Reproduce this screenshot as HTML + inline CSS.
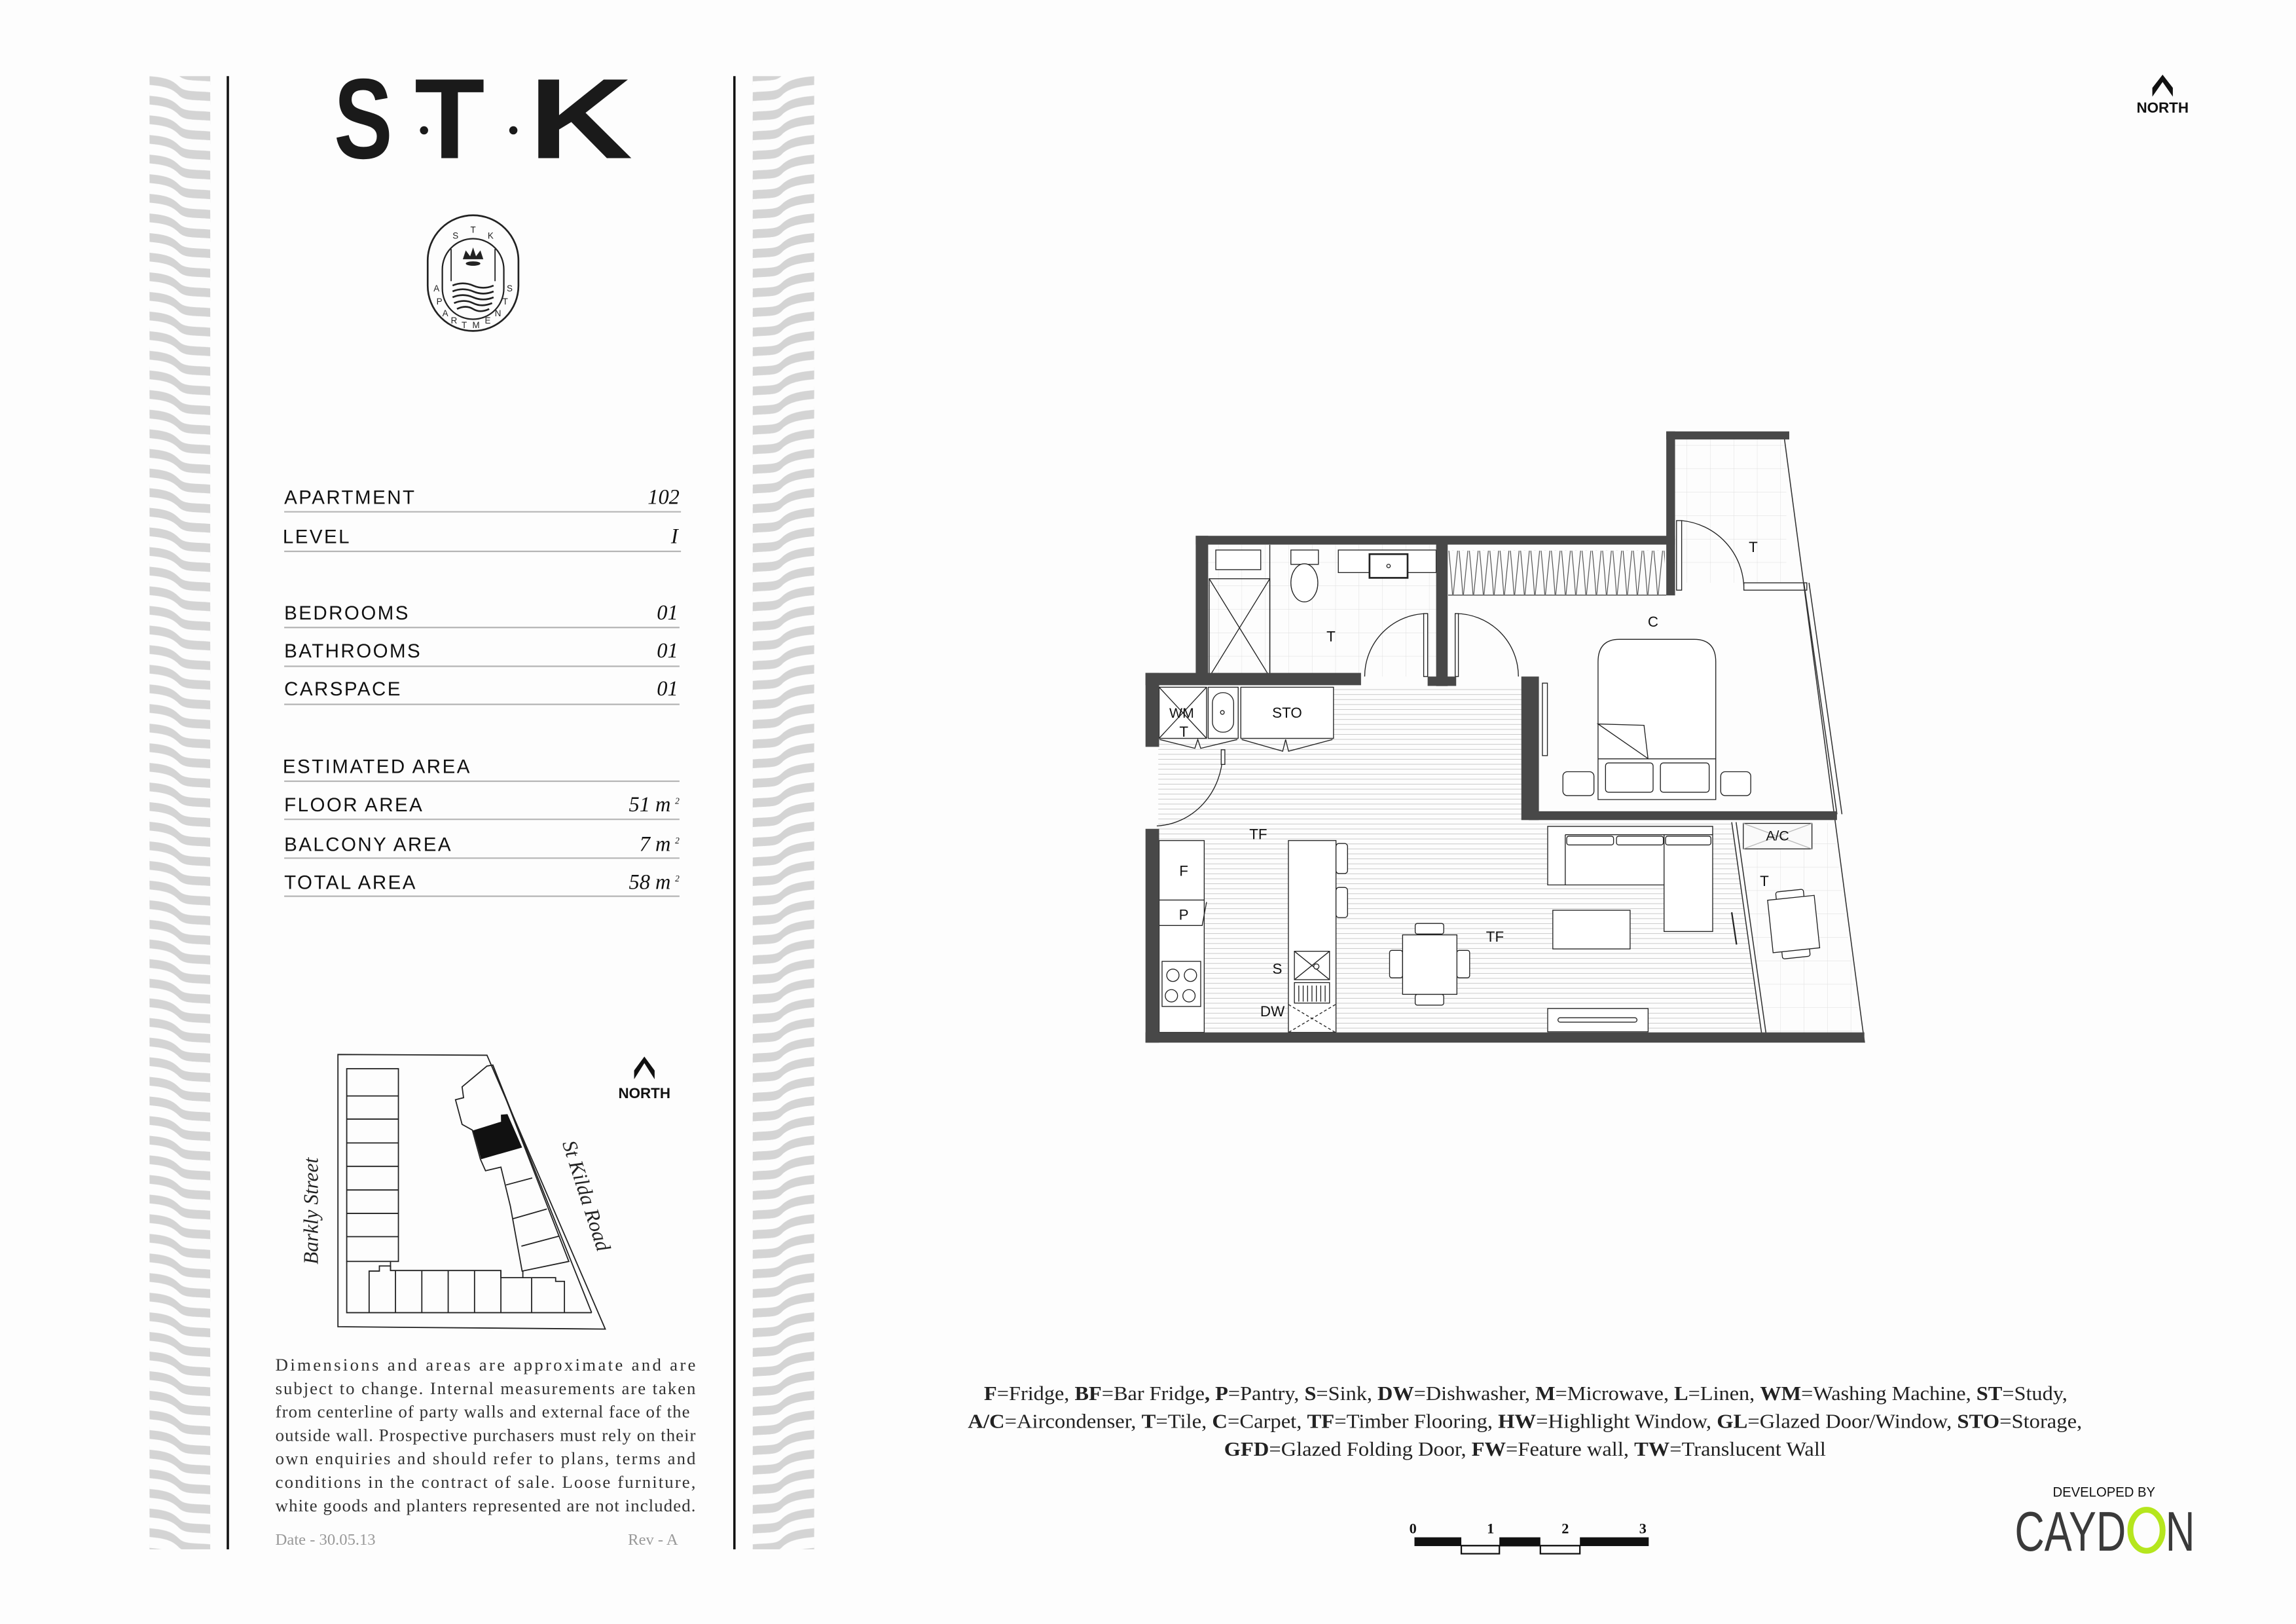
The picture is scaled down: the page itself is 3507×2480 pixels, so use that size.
<!DOCTYPE html>
<html><head><meta charset="utf-8"><style>
html,body{margin:0;padding:0;background:#fdfdfd;}
svg{display:block;}
.sans{font-family:"Liberation Sans",sans-serif;}
.serif{font-family:"Liberation Serif",serif;}
</style></head><body>
<svg width="3507" height="2480" viewBox="0 0 1568 1109" xmlns="http://www.w3.org/2000/svg">
<defs>
<pattern id="wave" x="102" y="52" width="41.5" height="13.4" patternUnits="userSpaceOnUse">
<g fill="#d4d4d4">
<path d="M0,0 C12,1 16,3 20,7 C24,11 30,10 41.5,11 L41.5,17 C30,16 24,17 20,13 C16,9 12,7 0,6 Z"/>
<path transform="translate(0,-13.4)" d="M0,0 C12,1 16,3 20,7 C24,11 30,10 41.5,11 L41.5,17 C30,16 24,17 20,13 C16,9 12,7 0,6 Z"/>
<path transform="translate(0,13.4)" d="M0,0 C12,1 16,3 20,7 C24,11 30,10 41.5,11 L41.5,17 C30,16 24,17 20,13 C16,9 12,7 0,6 Z"/>
</g>
</pattern>
<pattern id="wave2" x="514" y="52" width="42" height="13.4" patternUnits="userSpaceOnUse">
<g fill="#d4d4d4">
<path d="M0,11 C12,10 16,11 20,7 C24,3 30,1 42,0 L42,6 C30,7 24,9 20,13 C16,17 12,16 0,17 Z"/>
<path transform="translate(0,-13.4)" d="M0,11 C12,10 16,11 20,7 C24,3 30,1 42,0 L42,6 C30,7 24,9 20,13 C16,17 12,16 0,17 Z"/>
<path transform="translate(0,13.4)" d="M0,11 C12,10 16,11 20,7 C24,3 30,1 42,0 L42,6 C30,7 24,9 20,13 C16,17 12,16 0,17 Z"/>
</g>
</pattern>
<pattern id="hatch" x="0" y="0" width="10" height="3.4" patternUnits="userSpaceOnUse">
<line x1="0" y1="1.7" x2="10" y2="1.7" stroke="#c8c8c8" stroke-width="0.45"/>
</pattern>
<pattern id="zig" x="989" y="376" width="7" height="30" patternUnits="userSpaceOnUse">
<path d="M0.5,0 Q2,15 3,30 M6.5,0 Q5,15 3.5,30" stroke="#444" stroke-width="0.5" fill="none"/>
</pattern>
<pattern id="tile" x="0" y="0" width="16" height="16" patternUnits="userSpaceOnUse">
<path d="M0,0 H16 M0,0 V16" stroke="#dcdcdc" stroke-width="0.4" fill="none"/>
</pattern>
</defs>
<rect width="1568" height="1109" fill="#fdfdfd"/>

<!-- side strips -->
<rect x="102" y="52" width="41.5" height="1006" fill="url(#wave)"/>
<rect x="514" y="52" width="42" height="1006" fill="url(#wave2)"/>
<line x1="155.5" y1="52" x2="155.5" y2="1058" stroke="#111" stroke-width="1.6"/>
<line x1="501.5" y1="52" x2="501.5" y2="1058" stroke="#111" stroke-width="1.6"/>

<!-- STK logo -->
<g class="sans" font-weight="bold" fill="#1a1a1a" font-size="78">
<text x="228" y="108" textLength="40" lengthAdjust="spacingAndGlyphs">S</text>
<text x="283" y="108" textLength="48" lengthAdjust="spacingAndGlyphs">T</text>
<text x="361" y="108" textLength="71" lengthAdjust="spacingAndGlyphs">K</text>
</g>
<circle cx="289.5" cy="89" r="2.8" fill="#1a1a1a"/>
<circle cx="350.5" cy="89" r="2.8" fill="#1a1a1a"/>

<!-- emblem -->
<g stroke="#222" fill="none">
<rect x="292" y="147" width="62" height="79" rx="31" stroke-width="1.2"/>
<rect x="302" y="163" width="42" height="55" rx="21" stroke-width="1"/>
<line x1="308" y1="170" x2="308" y2="192" stroke-width="0.8"/>
<line x1="338" y1="170" x2="338" y2="192" stroke-width="0.8"/>
<path d="M309,195 q7,-3 14,0 t14,0 M309,199 q7,-3 14,0 t14,0 M309,203 q7,-3 14,0 t14,0 M310,207 q7,-3 13,0 t13,0 M312,211 q6,-3 11,0 t11,0" stroke-width="1.2"/>
</g>
<path d="M316,177 l2,-6 l3,4 l2,-6 l2,6 l3,-4 l2,6 z" fill="#222"/>
<ellipse cx="323" cy="180" rx="5" ry="1.5" fill="#222"/>
<g class="sans" font-size="6" fill="#222" text-anchor="middle">
<text x="311" y="163">S</text><text x="323" y="159">T</text><text x="335" y="163">K</text>
<text x="298" y="199">A</text><text x="300" y="208">P</text><text x="304" y="216">A</text><text x="310" y="221">R</text><text x="317" y="224">T</text><text x="325" y="224">M</text><text x="333" y="221">E</text><text x="340" y="216">N</text><text x="345" y="208">T</text><text x="348" y="199">S</text>
</g>

<!-- table -->
<g class="sans" font-size="13.2" fill="#111" letter-spacing="1.1">
<text x="194" y="344">APARTMENT</text>
<text x="193" y="371">LEVEL</text>
<text x="194" y="423">BEDROOMS</text>
<text x="194" y="449">BATHROOMS</text>
<text x="194" y="475">CARSPACE</text>
<text x="193" y="528">ESTIMATED AREA</text>
<text x="194" y="554">FLOOR AREA</text>
<text x="194" y="581">BALCONY AREA</text>
<text x="194" y="607">TOTAL AREA</text>
</g>
<g class="serif" font-style="italic" font-size="14.5" fill="#111" text-anchor="end">
<text x="464" y="344">102</text>
<text x="463" y="371">I</text>
<text x="463" y="423">01</text>
<text x="463" y="449">01</text>
<text x="463" y="475">01</text>
<text x="458" y="554">51  m</text><text x="464" y="549" font-size="6">2</text>
<text x="458" y="581">7  m</text><text x="464" y="576" font-size="6">2</text>
<text x="458" y="607">58  m</text><text x="464" y="602" font-size="6">2</text>
</g>
<g stroke="#b5b5b5" stroke-width="1">
<line x1="194" y1="349.5" x2="465" y2="349.5"/>
<line x1="194" y1="376.5" x2="465" y2="376.5"/>
<line x1="194" y1="428.5" x2="464" y2="428.5"/>
<line x1="194" y1="455" x2="464" y2="455"/>
<line x1="194" y1="481" x2="464" y2="481"/>
<line x1="194" y1="533.5" x2="464" y2="533.5"/>
<line x1="194" y1="559.5" x2="464" y2="559.5"/>
<line x1="194" y1="586" x2="464" y2="586"/>
<line x1="194" y1="612" x2="464" y2="612"/>
</g>

<!-- site map -->
<g stroke="#222" stroke-width="0.8" fill="none">
<polygon points="230.7,720.1 332.5,720.6 413.3,907.6 230.7,906"/>
<line x1="336.5" y1="727.3" x2="404" y2="896.4"/>
<rect x="236.7" y="729.8" width="35.3" height="131.6"/>
<path d="M236.7,748.4 H272 M236.7,764.2 H272 M236.7,780.5 H272 M236.7,796.5 H272 M236.7,812.6 H272 M236.7,828.6 H272 M236.7,844.5 H272"/>
<path d="M236.7,861.4 V896.4 H404 M252,896.4 V868 H259 V864.5 H266.6 V867.6 H342 V872.5 H379.4 V875 H385.4 V896.4"/>
<path d="M266.6,861.4 V867.6 M270,867.6 V896.4 M288,867.6 V896.4 M306,867.6 V896.4 M324,867.6 V896.4 M342,867.6 V896.4 M363,872.5 V896.4 M357,868 V872.5"/>
<polygon points="332.5,728 315.5,742.2 316.5,749.6 311,751 315.5,767.8 322.5,771.7 328,791.6 331.5,799.5 342,797 348.5,823.8 356.5,868 388.4,861.4 336.5,727.3"/>
<path d="M345.5,809.2 L363.4,804.4 M350,832.3 L373.4,825.6 M356,851 L381.4,844.2"/>
</g>
<polygon points="322.9,772 342.1,766 342,761.2 346.5,760.8 356.5,783.6 328.5,791.6" fill="#111"/>
<text class="serif" font-style="italic" font-size="14" fill="#222" text-anchor="middle" transform="translate(217,827) rotate(-90)">Barkly Street</text>
<text class="serif" font-style="italic" font-size="14" fill="#222" text-anchor="middle" transform="translate(396,818) rotate(72)">St Kilda Road</text>
<path d="M433,737 L440,726 L447,737 L447,731 L440,721.5 L433,731 Z" fill="#111"/>
<text class="sans" x="440" y="750" font-size="10" font-weight="bold" fill="#111" text-anchor="middle">NORTH</text>

<!-- disclaimer -->
<g class="serif" font-size="12" fill="#333">
<text x="188" y="936" textLength="287" lengthAdjust="spacing">Dimensions and areas are approximate and are</text>
<text x="188" y="952" textLength="287" lengthAdjust="spacing">subject to change. Internal measurements are taken</text>
<text x="188" y="968" textLength="283" lengthAdjust="spacing">from centerline of party walls and external face of the</text>
<text x="188" y="984" textLength="287" lengthAdjust="spacing">outside wall. Prospective purchasers must rely on their</text>
<text x="188" y="1000" textLength="287" lengthAdjust="spacing">own enquiries and should refer to plans, terms and</text>
<text x="188" y="1016" textLength="287" lengthAdjust="spacing">conditions in the contract of sale. Loose furniture,</text>
<text x="188" y="1032" textLength="287" lengthAdjust="spacing">white goods and planters represented are not included.</text>
</g>
<g class="serif" font-size="11" fill="#999">
<text x="188" y="1055">Date - 30.05.13</text>
<text x="463" y="1055" text-anchor="end">Rev - A</text>
</g>

<!-- top right north -->
<path d="M1470,66 L1477,56 L1484,66 L1484,60 L1477,51 L1470,60 Z" fill="#111"/>
<text class="sans" x="1477" y="77" font-size="10" font-weight="bold" fill="#111" text-anchor="middle">NORTH</text>

<!-- ===== FLOOR PLAN ===== -->
<!-- tiles -->
<rect x="825" y="372" width="156" height="90" fill="url(#tile)"/>
<rect x="1144" y="300" width="76" height="98" fill="url(#tile)"/>
<polygon points="1185,562 1252,562 1271,706 1204,706" fill="url(#tile)"/>
<!-- timber hatch -->
<polygon points="791,505 910,505 910,468 1044,468 1044,560 1183,560 1203,705 791,705" fill="url(#hatch)"/>

<!-- robe -->
<rect x="989" y="376" width="148" height="30" fill="url(#zig)"/>
<line x1="989" y1="406.4" x2="1138" y2="406.4" stroke="#444" stroke-width="0.6"/>

<g stroke="#222" stroke-width="0.6" fill="#fff">
<!-- bathroom -->
<rect x="830.3" y="375.6" width="30.7" height="13.4"/>
<rect x="825.8" y="395.2" width="41.4" height="67.1" fill="none"/>
<path d="M825.8,395.2 L867.2,462.3 M867.2,395.2 L825.8,462.3" fill="none"/>
<line x1="867.2" y1="372" x2="867.2" y2="462" fill="none"/>
<rect x="881.6" y="375.6" width="18.8" height="9.8"/>
<ellipse cx="890.8" cy="398" rx="9.2" ry="13"/>
<rect x="914" y="375.6" width="66.8" height="15.4"/>
<rect x="935.3" y="378.4" width="26" height="16.2" stroke-width="1.2"/>
<circle cx="948.3" cy="386.5" r="1.2" fill="none"/>
<!-- doors -->
<path d="M975,419 V462 M975,419 A43,43 0 0 0 932,462" fill="none"/>
<rect x="972.3" y="419" width="2.7" height="43"/>
<path d="M994,419 A43,43 0 0 1 1037,462" fill="none"/>
<rect x="993.8" y="419" width="2.2" height="43"/>
<rect x="1145" y="355.5" width="3.5" height="47.5"/>
<path d="M1148.5,355.5 A47,47 0 0 1 1191,401" fill="none"/>
<rect x="1191" y="398" width="43" height="5"/>
<path d="M835,515 A47,50 0 0 1 790,564" fill="none"/>
<rect x="834" y="512" width="2.5" height="10"/>
<!-- bedroom -->
<rect x="1053.4" y="466.5" width="3.4" height="49.5"/>
<path d="M1091.4,546 V452 Q1091.4,436.6 1106,436.6 H1157 Q1171.8,436.6 1171.8,452 V546 Z"/>
<line x1="1091.4" y1="518.2" x2="1171.8" y2="518.2"/>
<path d="M1091.4,494.4 L1122.8,495.3 L1125.5,518 Z"/>
<rect x="1096.5" y="521" width="32.5" height="20" rx="2"/>
<rect x="1134" y="521" width="33.3" height="20" rx="2"/>
<rect x="1067.4" y="527" width="21.2" height="16.3" rx="3"/>
<rect x="1175.2" y="527" width="20.5" height="16.3" rx="3"/>
<!-- laundry -->
<rect x="791.6" y="469.3" width="32.4" height="34.9"/>
<path d="M791.6,469.3 L824,504.2 M824,469.3 L791.6,504.2" fill="none"/>
<rect x="825.1" y="469.3" width="20.5" height="34.9"/>
<rect x="828" y="473" width="14.5" height="27" rx="7"/>
<circle cx="834.8" cy="486.5" r="1.3" fill="none"/>
<rect x="847.4" y="469.3" width="63.3" height="34.9"/>
<path d="M792,505 L816,511 L818,505 L820,511 L845,505 M848,505 L876,513 L878,505 L880,513 L910,505" fill="none"/>
<!-- kitchen -->
<rect x="791.6" y="574" width="30.8" height="131"/>
<line x1="791.6" y1="614.6" x2="822.4" y2="614.6"/>
<path d="M791.6,632 H821 L824,616" fill="none"/>
<rect x="793.6" y="656.5" width="26.4" height="30.8"/>
<circle cx="801" cy="666" r="4.2"/><circle cx="813" cy="666" r="4.2"/>
<circle cx="800" cy="680" r="4.2"/><circle cx="812" cy="680" r="4.2"/>
<rect x="879.9" y="574" width="32.5" height="131"/>
<rect x="912.4" y="576" width="7.9" height="20.5" rx="2"/>
<rect x="912.4" y="606" width="7.9" height="20.6" rx="2"/>
<rect x="884" y="649.6" width="24" height="19.4"/>
<path d="M884,649.6 L908,669 M908,649.6 L884,669" fill="none"/>
<circle cx="899" cy="660" r="1.8"/>
<rect x="884" y="671" width="24" height="14"/>
<path d="M887,673 V684 M890,673 V684 M893,673 V684 M896,673 V684 M899,673 V684 M902,673 V684 M905,673 V684" fill="none"/>
<path d="M880,686 L912,705 M912,686 L880,705" fill="none" stroke-dasharray="2,1.5"/>
<!-- dining -->
<rect x="966.5" y="630.6" width="19.5" height="7.2" rx="1.5"/>
<rect x="966.5" y="679" width="19.5" height="7.4" rx="1.5"/>
<rect x="949" y="649" width="8.9" height="18.7" rx="1.5"/>
<rect x="995" y="649" width="8.7" height="18.7" rx="1.5"/>
<rect x="957.9" y="638.4" width="37.1" height="40.6"/>
<!-- sofa -->
<path d="M1057,564.3 H1169.7 V636.1 H1136.5 V604.3 H1057 Z"/>
<path d="M1069,570 V604.3 M1069,570 H1169.7 M1136.5,570 V604.3" fill="none"/>
<rect x="1070" y="571" width="32" height="6" rx="1.5"/>
<rect x="1104" y="571" width="32" height="6" rx="1.5"/>
<rect x="1137.5" y="571" width="31" height="6" rx="1.5"/>
<rect x="1060.5" y="621.6" width="52.8" height="26.4"/>
<rect x="1057" y="688.7" width="68.6" height="15.9"/>
<rect x="1064" y="695" width="54" height="3" rx="1.5"/>
<!-- balcony -->
<rect x="1190.6" y="562.3" width="46.9" height="17.4" fill="#fafafa"/>
<path d="M1190.6,562.3 L1237.5,579.7 M1237.5,562.3 L1190.6,579.7" fill="none" stroke="#bbb"/>
<g transform="rotate(-6 1225 631)">
<rect x="1215" y="608" width="19" height="6" rx="1.5"/>
<rect x="1215" y="648" width="19" height="6" rx="1.5"/>
<rect x="1209" y="613" width="32" height="36"/>
</g>
<line x1="1182.7" y1="623" x2="1186" y2="645" fill="none" stroke-width="1"/>
</g>

<!-- glass lines -->
<g stroke="#333" stroke-width="0.7" fill="none">
<line x1="1218.7" y1="299.6" x2="1273.4" y2="712"/>
<line x1="1232" y1="398" x2="1254.6" y2="556"/>
<line x1="1235.5" y1="398" x2="1258" y2="556"/>
<line x1="1182.7" y1="561.5" x2="1203.3" y2="707"/>
<line x1="1185.7" y1="561.5" x2="1206.3" y2="707"/>
</g>

<!-- walls -->
<g fill="#484848">
<rect x="1138" y="294.6" width="84" height="5.5"/>
<rect x="1138" y="294.6" width="6" height="112"/>
<rect x="816.6" y="365.9" width="327.4" height="6"/>
<rect x="816.6" y="365.9" width="8.5" height="98"/>
<rect x="782.3" y="459.5" width="147.2" height="8.4"/>
<rect x="980.8" y="371.5" width="7.9" height="97"/>
<rect x="975" y="462" width="19.5" height="6.4"/>
<rect x="1039" y="462" width="12" height="98"/>
<rect x="1044" y="554" width="210.6" height="6"/>
<rect x="782.3" y="459.5" width="9.3" height="50.5"/>
<rect x="782.3" y="566" width="9.3" height="146"/>
<rect x="782.3" y="705" width="491" height="7"/>
</g>

<!-- plan labels -->
<g class="sans" font-size="10" fill="#111" text-anchor="middle">
<text x="1197.4" y="377">T</text>
<text x="909" y="438">T</text>
<text x="1129" y="428">C</text>
<text x="807" y="490" font-size="9.5">WM</text>
<text x="808.5" y="503">T</text>
<text x="879" y="490">STO</text>
<text x="859.3" y="573">TF</text>
<text x="1021" y="643">TF</text>
<text x="808.4" y="598">F</text>
<text x="808.4" y="628">P</text>
<text x="872.3" y="665">S</text>
<text x="869" y="694">DW</text>
<text x="1214" y="574" font-size="9.5">A/C</text>
<text x="1205" y="605">T</text>
</g>

<!-- legend -->
<g class="serif" font-size="13.5" fill="#222">
<text x="672" y="956" textLength="740" lengthAdjust="spacingAndGlyphs"><tspan font-weight="bold">F</tspan>=Fridge, <tspan font-weight="bold">BF</tspan>=Bar Fridge<tspan font-weight="bold">,</tspan> <tspan font-weight="bold">P</tspan>=Pantry, <tspan font-weight="bold">S</tspan>=Sink, <tspan font-weight="bold">DW</tspan>=Dishwasher, <tspan font-weight="bold">M</tspan>=Microwave, <tspan font-weight="bold">L</tspan>=Linen, <tspan font-weight="bold">WM</tspan>=Washing Machine, <tspan font-weight="bold">ST</tspan>=Study,</text>
<text x="661" y="975" textLength="761" lengthAdjust="spacingAndGlyphs"><tspan font-weight="bold">A/C</tspan>=Aircondenser, <tspan font-weight="bold">T</tspan>=Tile, <tspan font-weight="bold">C</tspan>=Carpet, <tspan font-weight="bold">TF</tspan>=Timber Flooring, <tspan font-weight="bold">HW</tspan>=Highlight Window, <tspan font-weight="bold">GL</tspan>=Glazed Door/Window, <tspan font-weight="bold">STO</tspan>=Storage,</text>
<text x="836" y="994" textLength="411" lengthAdjust="spacingAndGlyphs"><tspan font-weight="bold">GFD</tspan>=Glazed Folding Door, <tspan font-weight="bold">FW</tspan>=Feature wall, <tspan font-weight="bold">TW</tspan>=Translucent Wall</text>
</g>

<!-- scale bar -->
<g>
<rect x="966" y="1049.8" width="32" height="6" fill="#111"/>
<rect x="1024" y="1049.8" width="28" height="6" fill="#111"/>
<rect x="1079" y="1049.8" width="47" height="6" fill="#111"/>
<rect x="998" y="1055.5" width="26" height="5.5" fill="none" stroke="#111" stroke-width="1"/>
<rect x="1052" y="1055.5" width="27" height="5.5" fill="none" stroke="#111" stroke-width="1"/>
<line x1="998" y1="1055.5" x2="1079" y2="1055.5" stroke="#111" stroke-width="1"/>
<g class="serif" font-size="10" font-weight="bold" fill="#111" text-anchor="middle">
<text x="965" y="1047">0</text><text x="1018" y="1047">1</text><text x="1069" y="1047">2</text><text x="1122" y="1047">3</text>
</g>
</g>

<!-- developer -->
<text class="sans" x="1437" y="1022" font-size="9.5" fill="#111" text-anchor="middle" textLength="70" lengthAdjust="spacingAndGlyphs">DEVELOPED BY</text>
<g class="sans" font-size="38" fill="#3a3a3a">
<text x="1376" y="1059" textLength="76" lengthAdjust="spacingAndGlyphs">CAYD</text>
<text x="1479" y="1059" textLength="20" lengthAdjust="spacingAndGlyphs">N</text>
</g>
<ellipse cx="1466" cy="1045" rx="11" ry="14" fill="none" stroke="#b5e61d" stroke-width="4"/>
</svg>
</body></html>
